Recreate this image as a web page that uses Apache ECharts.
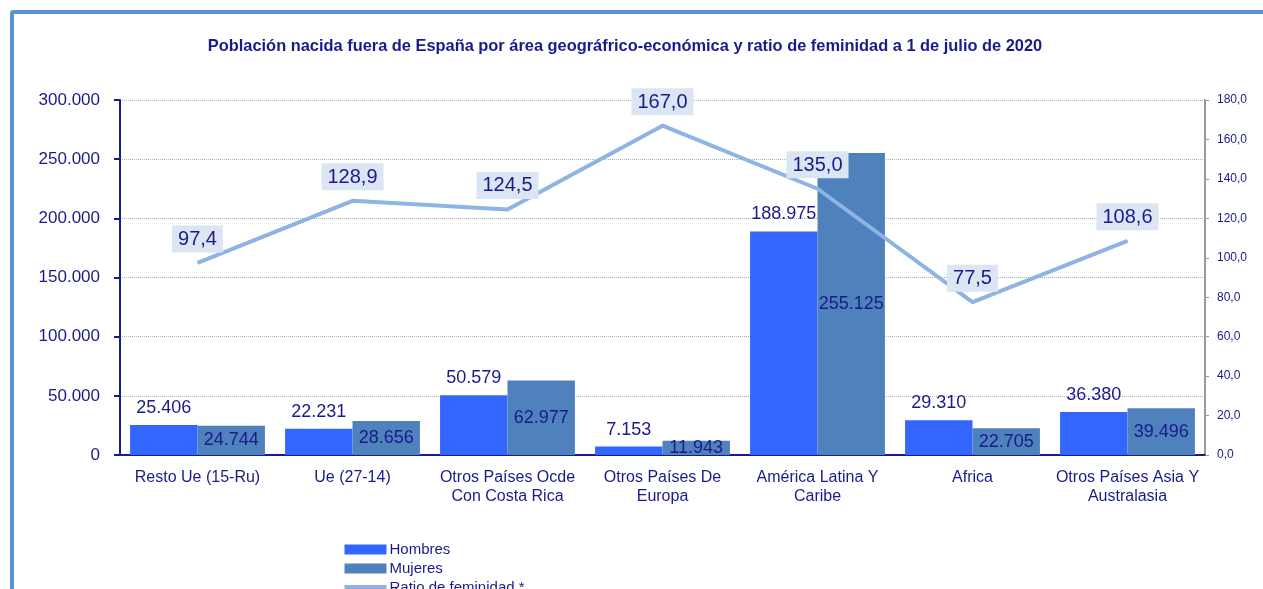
<!DOCTYPE html>
<html>
<head>
<meta charset="utf-8">
<script src="https://cdn.jsdelivr.net/npm/echarts@6/dist/echarts.min.js"></script>
<style>
  html, body { margin: 0; padding: 0; background: #fff; }
  #frame {
    position: absolute; left: 10px; top: 10px; right: 0; bottom: 0;
    border-top: 4px solid #5b8fd6; border-left: 4px solid #5b8fd6;
    border-top-left-radius: 4px;
  }
  #chart { position: absolute; left: 0; top: 0; width: 1263px; height: 589px; }
</style>
</head>
<body>
<div id="frame"></div>
<div id="chart"></div>
<script>
const categories = [
  "Resto Ue (15-Ru)",
  "Ue (27-14)",
  "Otros Países Ocde\nCon Costa Rica",
  "Otros Países De\nEuropa",
  "América Latina Y\nCaribe",
  "Africa",
  "Otros Países Asia Y\nAustralasia"
];
const hombres = [25406, 22231, 50579, 7153, 188975, 29310, 36380];
const mujeres = [24744, 28656, 62977, 11943, 255125, 22705, 39496];
const ratio = [97.4, 128.9, 124.5, 167.0, 135.0, 77.5, 108.6];

const navy = "#1a1a8c";

// 12345 -> "12.345"
function miles(v) {
  return String(Math.round(v)).replace(/\B(?=(\d{3})+(?!\d))/g, ".");
}
function coma(v) {
  return v.toFixed(1).replace(".", ",");
}

const chart = echarts.init(document.getElementById("chart"));
chart.setOption({
  animation: false,
  textStyle: { fontFamily: "Liberation Sans, Arial, sans-serif" },
  title: {
    text: "Población nacida fuera de España por área geográfrico-económica y ratio de feminidad a 1 de julio de 2020",
    left: 620,
    textAlign: "center",
    top: 33,
    textStyle: { fontSize: 16.4, fontWeight: "bold", color: navy }
  },
  legend: {
    orient: "vertical",
    left: 342,
    top: 542,
    padding: 0,
    height: 80,
    itemWidth: 42,
    itemHeight: 10,
    itemGap: 4,
    textStyle: { fontSize: 15, lineHeight: 14, color: navy, padding: [0, 0, 0, -2] },
    data: [
      { name: "Hombres", icon: "rect" },
      { name: "Mujeres", icon: "rect" },
      { name: "Ratio de feminidad *", itemStyle: { opacity: 0 }, lineStyle: { width: 5 } }
    ]
  },
  grid: { left: 120, right: 58, top: 100, bottom: 134 },
  xAxis: {
    type: "category",
    data: categories,
    axisLine: { lineStyle: { color: navy, width: 2 } },
    axisTick: { length: 6, lineStyle: { color: navy, width: 2 } },
    axisLabel: { interval: 0, fontSize: 16, color: navy, margin: 13, lineHeight: 19 }
  },
  yAxis: [
    {
      type: "value",
      min: 0,
      max: 300000,
      interval: 50000,
      axisLine: { show: true, lineStyle: { color: navy, width: 2 } },
      axisTick: { show: true, length: 6, lineStyle: { color: navy, width: 2 } },
      axisLabel: { fontSize: 17, color: navy, margin: 20, formatter: miles },
      splitLine: { lineStyle: { color: "#b0b0b0", type: "dotted" } }
    },
    {
      type: "value",
      min: 0,
      max: 180,
      interval: 20,
      position: "right",
      axisLine: { show: true, lineStyle: { color: "#9a9a9a", width: 2 } },
      axisTick: { show: true, length: 4, lineStyle: { color: "#9a9a9a" } },
      axisLabel: { fontSize: 12, color: navy, margin: 12, formatter: coma },
      splitLine: { show: false }
    }
  ],
  series: [
    {
      name: "Hombres",
      type: "bar",
      data: hombres,
      barGap: "0%",
      barCategoryGap: "13%",
      itemStyle: { color: "#3366ff" },
      label: {
        show: true,
        position: "top",
        distance: 8,
        fontSize: 18,
        color: navy,
        formatter: p => miles(p.value)
      }
    },
    {
      name: "Mujeres",
      type: "bar",
      data: mujeres,
      itemStyle: { color: "#4f81bd" },
      label: {
        show: true,
        position: "inside",
        fontSize: 18,
        color: navy,
        formatter: p => miles(p.value)
      }
    },
    {
      name: "Ratio de feminidad *",
      type: "line",
      yAxisIndex: 1,
      data: ratio,
      symbol: "circle",
      symbolSize: 1,
      showSymbol: true,
      z: 5,
      lineStyle: { color: "#8db4e2", width: 4 },
      itemStyle: { color: "#8db4e2" },
      label: {
        show: true,
        position: "top",
        distance: 10,
        fontSize: 20,
        color: navy,
        backgroundColor: "#dce6f2",
        padding: [4, 6, 3, 6],
        formatter: p => coma(p.value)
      }
    }
  ]
});

window.addEventListener("resize", function() {
  chart.resize();
});
</script>
</body>
</html>
